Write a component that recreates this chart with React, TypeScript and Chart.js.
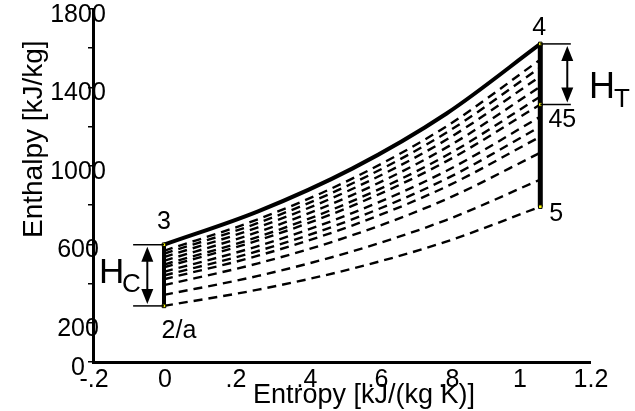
import React, { useEffect, useRef } from "react";
import { Chart, registerables } from "chart.js";

Chart.register(...registerables);

// Entropy sample positions [kJ/(kg K)] shared by every curve
const entropySamples = [0, 0.265, 0.53, 0.795, 1.06];

// Upper boundary curve 3 -> 4 (enthalpy, kJ/kg)
const upperCurve = [598, 768, 986, 1266, 1622];

// Family of dashed curves (enthalpy, kJ/kg), top to bottom
const dashedCurves = [
  [567, 728, 935, 1201, 1542],
  [552, 709, 910, 1169, 1502],
  [535, 687, 882, 1133, 1456],
  [516, 663, 851, 1093, 1404],
  [497, 638, 820, 1053, 1353],
  [483, 620, 796, 1023, 1313],
  [460, 591, 759, 974, 1251],
  [441, 566, 727, 934, 1200],
  [422, 542, 696, 894, 1149],
  [392, 503, 646, 830, 1067],
  [342, 439, 564, 724, 930],
  [286, 369, 476, 614, 792],
];

// State points
const stateNames = ["2/a", "3", "4", "45", "5"];
const stateEntropy = [0, 0, 1.06, 1.06, 1.06];
const stateEnthalpy = [286, 598, 1622, 1313, 792];

// Axis ticks
const xTickValues = [-0.2, 0, 0.2, 0.4, 0.6, 0.8, 1, 1.2];
const xTickLabels = ["-.2", "0", ".2", ".4", ".6", ".8", "1", "1.2"];
const yTickValues = [0, 200, 600, 1000, 1400, 1800];
const yTickLabels = ["0", "200", "600", "1000", "1400", "1800"];

const FONT = '"Liberation Sans", Arial, Helvetica, sans-serif';

const toPoints = (ys: number[]) => ys.map((v, i) => ({ x: entropySamples[i], y: v }));

function line(ctx: CanvasRenderingContext2D, x1: number, y1: number, x2: number, y2: number) {
  ctx.beginPath();
  ctx.moveTo(x1, y1);
  ctx.lineTo(x2, y2);
  ctx.stroke();
}

function head(ctx: CanvasRenderingContext2D, x: number, tipY: number, dir: number) {
  // dir = +1 points up (base below tip), -1 points down
  const len = 15;
  const half = 6;
  ctx.beginPath();
  ctx.moveTo(x, tipY);
  ctx.lineTo(x - half, tipY + dir * len);
  ctx.lineTo(x + half, tipY + dir * len);
  ctx.closePath();
  ctx.fill();
}

function dimension(
  ctx: CanvasRenderingContext2D,
  barFrom: number,
  barTo: number,
  shaftX: number,
  yTop: number,
  yBottom: number
) {
  ctx.strokeStyle = "#000";
  ctx.fillStyle = "#000";
  ctx.lineWidth = 1.5;
  line(ctx, barFrom, yTop, barTo, yTop);
  line(ctx, barFrom, yBottom, barTo, yBottom);
  ctx.lineWidth = 2;
  line(ctx, shaftX, yTop + 10, shaftX, yBottom - 10);
  head(ctx, shaftX, yTop + 2, 1);
  head(ctx, shaftX, yBottom - 2, -1);
}

const decorPlugin = {
  id: "cycleDecor",
  afterDatasetsDraw(chart: any) {
    const { ctx } = chart;
    const x = chart.scales.x;
    const y = chart.scales.y;
    ctx.save();

    // Compressor enthalpy rise H_C between 2/a and 3
    dimension(
      ctx,
      x.getPixelForValue(-0.087),
      x.getPixelForValue(0),
      x.getPixelForValue(-0.047),
      y.getPixelForValue(stateEnthalpy[1]),
      y.getPixelForValue(stateEnthalpy[0])
    );
    // Turbine enthalpy drop H_T between 4 and 45
    dimension(
      ctx,
      x.getPixelForValue(1.06),
      x.getPixelForValue(1.146),
      x.getPixelForValue(1.136),
      y.getPixelForValue(stateEnthalpy[2]),
      y.getPixelForValue(stateEnthalpy[3])
    );

    ctx.fillStyle = "#000";
    ctx.textBaseline = "alphabetic";
    ctx.textAlign = "left";
    ctx.font = `35px ${FONT}`;
    ctx.fillText("H", 99, 283);
    ctx.font = `26px ${FONT}`;
    ctx.fillText("C", 122, 292);
    ctx.font = `36px ${FONT}`;
    ctx.fillText("H", 589, 98);
    ctx.font = `26px ${FONT}`;
    ctx.fillText("T", 614, 107);

    // State point labels
    const offsets: [number, number][] = [
      [15, 25],
      [0, -23],
      [-1, -16],
      [22, 16],
      [16, 7],
    ];
    ctx.font = `25px ${FONT}`;
    ctx.textAlign = "center";
    ctx.textBaseline = "middle";
    stateNames.forEach((name, i) => {
      const px = x.getPixelForValue(stateEntropy[i]) + offsets[i][0];
      const py = y.getPixelForValue(stateEnthalpy[i]) + offsets[i][1];
      ctx.fillText(name, px, py);
    });
    ctx.restore();
  },
  afterDraw(chart: any) {
    const { ctx } = chart;
    const x = chart.scales.x;
    const y = chart.scales.y;
    ctx.save();
    ctx.fillStyle = "#000";
    ctx.font = `25px ${FONT}`;
    ctx.textAlign = "center";
    ctx.textBaseline = "middle";
    yTickValues.forEach((v, i) => {
      ctx.fillText(yTickLabels[i], x.left - 15, y.getPixelForValue(v) + 6);
    });
    xTickValues.forEach((v, i) => {
      ctx.fillText(xTickLabels[i], x.getPixelForValue(v) + 1, y.bottom + 18);
    });

    // Axis titles
    ctx.font = `27px ${FONT}`;
    ctx.textAlign = "left";
    ctx.textBaseline = "alphabetic";
    ctx.fillText("Entropy [kJ/(kg K)]", 253, 403);

    ctx.font = `28px ${FONT}`;
    ctx.translate(42, 238);
    ctx.rotate(-Math.PI / 2);
    ctx.fillText("Enthalpy [kJ/kg]", 0, 0);
    ctx.restore();
  },
};

export default function App() {
  const canvasRef = useRef<HTMLCanvasElement>(null);

  useEffect(() => {
    document.body.style.margin = "0";
    const canvas = canvasRef.current;
    if (!canvas) return;

    const dashed = dashedCurves.map((ys) => ({
      data: toPoints(ys),
      showLine: true,
      borderColor: "#000",
      borderWidth: 2.4,
      borderDash: [9, 6],
      pointRadius: 0,
      cubicInterpolationMode: "monotone" as const,
      order: 3,
    }));

    const chart = new Chart(canvas, {
      type: "scatter",
      data: {
        datasets: [
          ...dashed,
          {
            data: toPoints(upperCurve),
            showLine: true,
            borderColor: "#000",
            borderWidth: 4,
            pointRadius: 0,
            cubicInterpolationMode: "monotone" as const,
            order: 2,
          },
          {
            data: [
              { x: stateEntropy[0], y: stateEnthalpy[0] },
              { x: stateEntropy[1], y: stateEnthalpy[1] },
            ],
            showLine: true,
            borderColor: "#000",
            borderWidth: 4,
            pointRadius: 0,
            order: 2,
          },
          {
            data: [
              { x: stateEntropy[4], y: stateEnthalpy[4] },
              { x: stateEntropy[2], y: stateEnthalpy[2] },
            ],
            showLine: true,
            borderColor: "#000",
            borderWidth: 5,
            pointRadius: 0,
            order: 2,
          },
          {
            data: stateEntropy.map((s, i) => ({ x: s, y: stateEnthalpy[i] })),
            showLine: false,
            pointStyle: "rect",
            pointRadius: 2.5,
            pointBackgroundColor: "#ffff00",
            pointBorderColor: "#000",
            pointBorderWidth: 1,
            order: 1,
          },
        ],
      },
      options: {
        animation: false,
        responsive: false,
        devicePixelRatio: 1,
        layout: { padding: { left: 93, right: 45, top: 9, bottom: 49 } },
        plugins: {
          legend: { display: false },
          tooltip: { enabled: false },
        },
        scales: {
          x: {
            type: "linear",
            min: -0.2,
            max: 1.2,
            ticks: { display: false, stepSize: 0.2 },
            grid: { display: false },
            border: { display: true, color: "#000", width: 3 },
            afterFit: (scale: any) => {
              scale.height = 0;
            },
          },
          y: {
            type: "linear",
            min: 0,
            max: 1800,
            ticks: { display: false, stepSize: 200 },
            grid: {
              display: true,
              drawOnChartArea: false,
              drawTicks: true,
              tickLength: 5,
              color: "#000",
              lineWidth: 1.5,
            },
            border: { display: true, color: "#000", width: 3 },
            afterFit: (scale: any) => {
              scale.width = 0;
            },
          },
        },
      },
      plugins: [decorPlugin],
    } as any);

    return () => chart.destroy();
  }, []);

  return (
    <div style={{ position: "fixed", left: 0, top: 0, width: 635, height: 411, background: "#fff" }}>
      <canvas ref={canvasRef} width={635} height={411} style={{ display: "block", width: "635px", height: "411px" }} />
    </div>
  );
}
